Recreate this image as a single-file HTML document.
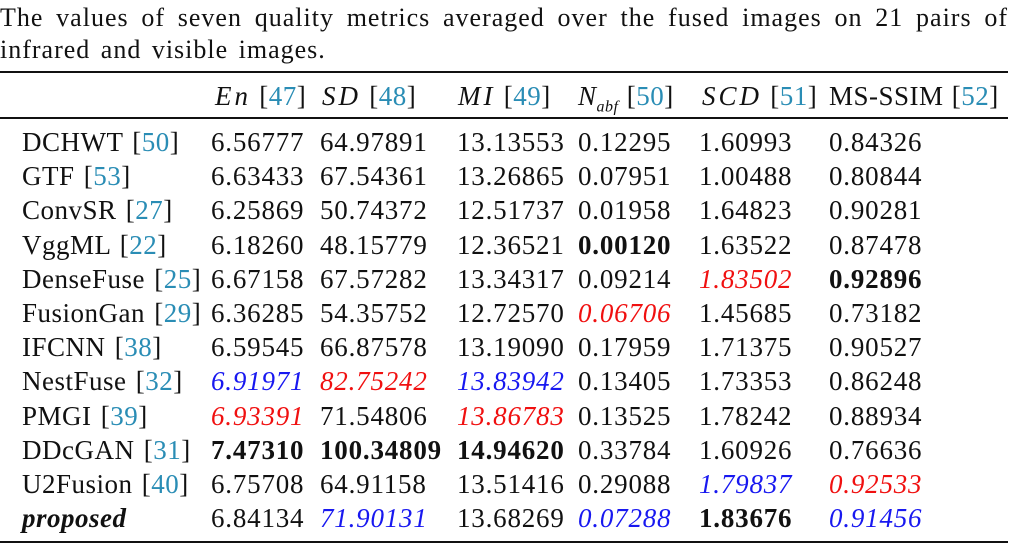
<!DOCTYPE html>
<html><head><meta charset="utf-8"><style>
body{margin:0;width:1019px;height:551px;background:#fff;position:relative;overflow:hidden;font-family:"Liberation Serif",serif;color:#111}
.cap{position:absolute;left:0;width:1008px;font-size:26px;line-height:30px;letter-spacing:1px;word-spacing:3px;white-space:nowrap}
.j{text-align:justify;text-align-last:justify;white-space:normal}
.r{position:absolute;left:0;width:1008px;background:#111}
.c{position:absolute;font-size:27px;line-height:30px;white-space:nowrap;letter-spacing:0.8px;word-spacing:4px}
.l{letter-spacing:0.5px;word-spacing:2px}
.h{letter-spacing:0.5px;word-spacing:1px}
.ref{color:#2a8db5}
.red{color:#f01010;font-style:italic}
.blu{color:#1818f0;font-style:italic}
.m{font-style:italic;letter-spacing:3px}
</style></head><body>
<div class="cap j" style="top:3px">The values of seven quality metrics averaged over the fused images on 21 pairs of</div>
<div class="cap" style="top:35px">infrared and visible images.</div>
<div class="r" style="top:71px;height:2px"></div>
<div class="r" style="top:117px;height:1.5px"></div>
<div class="r" style="top:541px;height:2px"></div>
<div class="c h" style="top:81px;left:215px"><span class="m">En</span> [<span class="ref">47</span>]</div>
<div class="c h" style="top:81px;left:322px"><span class="m">SD</span> [<span class="ref">48</span>]</div>
<div class="c h" style="top:81px;left:458px"><span class="m">MI</span> [<span class="ref">49</span>]</div>
<div class="c h" style="top:81px;left:578px"><i>N</i><sub style="font-size:16px"><i>abf</i></sub> [<span class="ref">50</span>]</div>
<div class="c h" style="top:81px;left:702px"><span class="m">SCD</span> [<span class="ref">51</span>]</div>
<div class="c h" style="top:81px;left:829px">MS-SSIM [<span class="ref">52</span>]</div>
<div id="rows"></div>
<script>
var d=[
["DCHWT [<span class=ref>50</span>]","6.56777","64.97891","13.13553","0.12295","1.60993","0.84326"],
["GTF [<span class=ref>53</span>]","6.63433","67.54361","13.26865","0.07951","1.00488","0.80844"],
["ConvSR [<span class=ref>27</span>]","6.25869","50.74372","12.51737","0.01958","1.64823","0.90281"],
["VggML [<span class=ref>22</span>]","6.18260","48.15779","12.36521","<b>0.00120</b>","1.63522","0.87478"],
["DenseFuse [<span class=ref>25</span>]","6.67158","67.57282","13.34317","0.09214","<span class=red>1.83502</span>","<b>0.92896</b>"],
["FusionGan [<span class=ref>29</span>]","6.36285","54.35752","12.72570","<span class=red>0.06706</span>","1.45685","0.73182"],
["IFCNN [<span class=ref>38</span>]","6.59545","66.87578","13.19090","0.17959","1.71375","0.90527"],
["NestFuse [<span class=ref>32</span>]","<span class=blu>6.91971</span>","<span class=red>82.75242</span>","<span class=blu>13.83942</span>","0.13405","1.73353","0.86248"],
["PMGI [<span class=ref>39</span>]","<span class=red>6.93391</span>","71.54806","<span class=red>13.86783</span>","0.13525","1.78242","0.88934"],
["DDcGAN [<span class=ref>31</span>]","<b>7.47310</b>","<b>100.34809</b>","<b>14.94620</b>","0.33784","1.60926","0.76636"],
["U2Fusion [<span class=ref>40</span>]","6.75708","64.91158","13.51416","0.29088","<span class=blu>1.79837</span>","<span class=red>0.92533</span>"],
["<b><i>proposed</i></b>","6.84134","<span class=blu>71.90131</span>","13.68269","<span class=blu>0.07288</span>","<b>1.83676</b>","<span class=blu>0.91456</span>"]];
var xs=[22,211,320,457,578,699,829],h="";
d.forEach(function(r,i){var t=127+i*34.2;r.forEach(function(c,j){h+='<div class="c'+(j==0?' l':'')+'" style="top:'+t+'px;left:'+xs[j]+'px">'+c+'</div>';});});
document.getElementById('rows').innerHTML=h;
</script>
</body></html>
